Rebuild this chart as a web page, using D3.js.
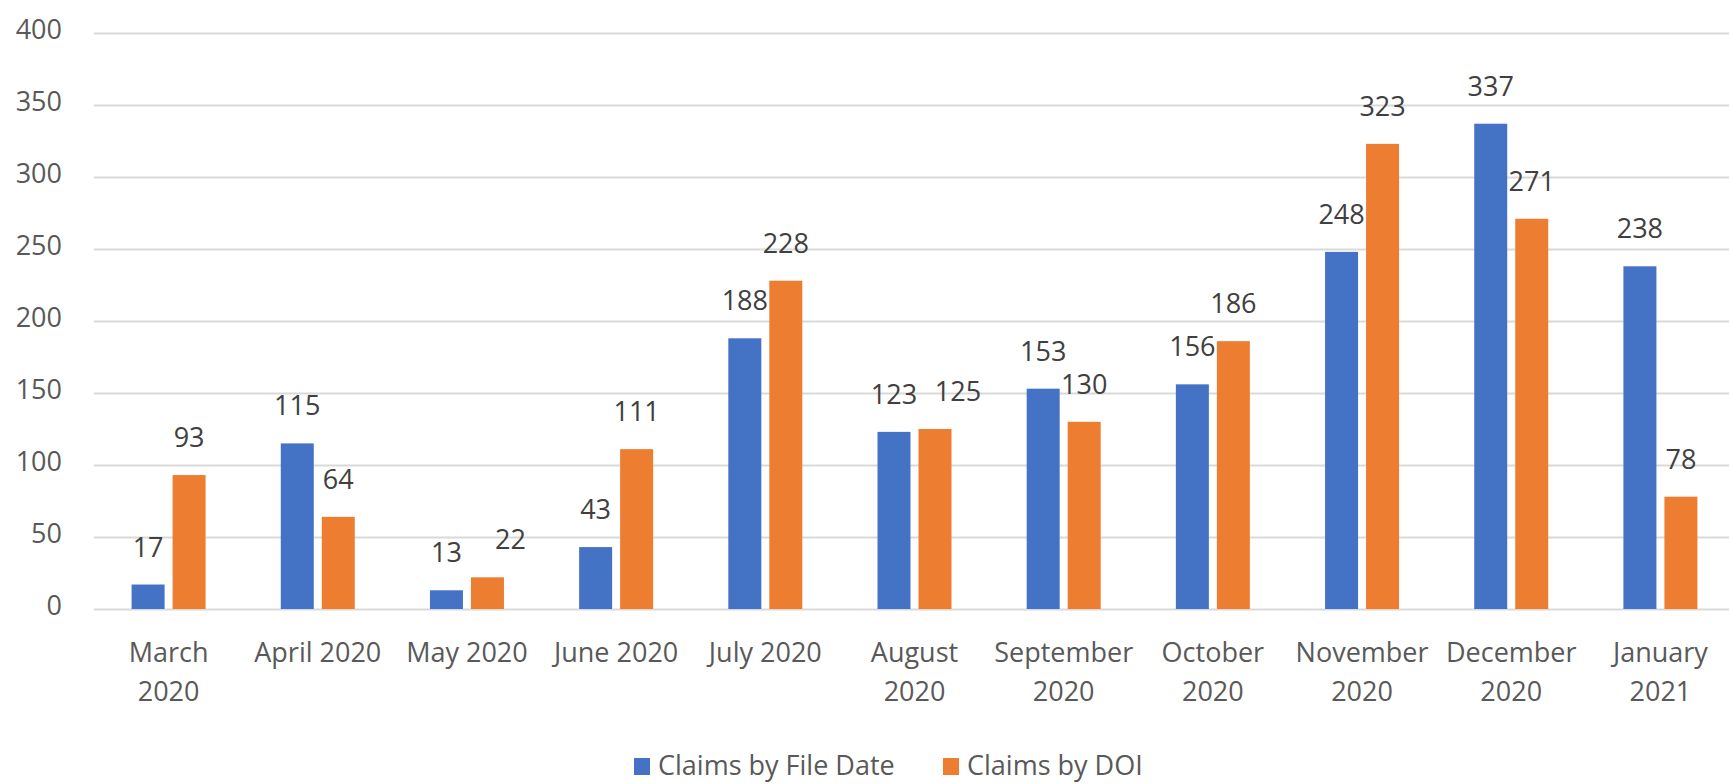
<!DOCTYPE html>
<html>
<head>
<meta charset="utf-8">
<script src="https://cdn.jsdelivr.net/npm/d3@7"></script>
<style>
  html, body { margin: 0; padding: 0; background: #fff; }
  svg { display: block; font-family: "Open Sans", sans-serif; }
</style>
</head>
<body>
<svg id="chart" width="1729" height="784"></svg>
<script>
// chart data
var months = ['March 2020', 'April 2020', 'May 2020', 'June 2020', 'July 2020', 'August 2020',
  'September 2020', 'October 2020', 'November 2020', 'December 2020', 'January 2021'];
var monthLines = [['March', '2020'], ['April 2020'], ['May 2020'], ['June 2020'], ['July 2020'],
  ['August', '2020'], ['September', '2020'], ['October', '2020'], ['November', '2020'],
  ['December', '2020'], ['January', '2021']];
var seriesNames = ['Claims by File Date', 'Claims by DOI'];
var fileDate = [17, 115, 13, 43, 188, 123, 153, 156, 248, 337, 238];
var doi = [93, 64, 22, 111, 228, 125, 130, 186, 323, 271, 78];
var yTicks = [0, 50, 100, 150, 200, 250, 300, 350, 400];

var colors = { 'Claims by File Date': '#4472c4', 'Claims by DOI': '#ed7d31' };

var svg = d3.select('#chart');
// note: "top" is taken by window.top, so use plot* names
var plotLeft = 94, plotRight = 1735, plotTop = 33, plotBottom = 609;

var x0 = d3.scaleBand().domain(months).range([plotLeft, plotRight]).paddingInner(0).paddingOuter(0);
var step = x0.bandwidth();
var groupW = 74;
var x1 = d3.scaleBand().domain(seriesNames)
  .range([(step - groupW) / 2, (step + groupW) / 2])
  .paddingInner(8 / 41);
var y = d3.scaleLinear().domain([0, 400]).range([plotBottom, plotTop]);

// y axis with gridlines
var yAxis = svg.append('g')
  .attr('transform', 'translate(' + plotLeft + ',0)')
  .call(d3.axisLeft(y).tickValues(yTicks).tickSize(-(plotRight - plotLeft)).tickPadding(32));
yAxis.select('.domain').remove();
yAxis.selectAll('.tick line').attr('stroke', '#d9d9d9').attr('stroke-width', 2);
yAxis.selectAll('.tick text')
  .attr('fill', '#595959')
  .attr('font-size', 27)
  .attr('font-family', '"Open Sans", sans-serif')
  .attr('dy', '0.2em');

// x axis labels
var xAxis = svg.append('g')
  .attr('transform', 'translate(0,' + plotBottom + ')')
  .call(d3.axisBottom(x0).tickSize(0).tickFormat(''));
xAxis.select('.domain').remove();
xAxis.selectAll('.tick').each(function (d, i) {
  var t = d3.select(this).append('text')
    .attr('fill', '#595959')
    .attr('font-size', 27)
    .attr('font-family', '"Open Sans", sans-serif')
    .attr('text-anchor', 'middle');
  monthLines[i].forEach(function (line, j) {
    t.append('tspan').attr('x', 0).attr('y', 53 + j * 39).text(line);
  });
});

// bars
var rows = months.map(function (m, i) {
  return { month: m, values: [
    { key: seriesNames[0], value: fileDate[i] },
    { key: seriesNames[1], value: doi[i] }
  ] };
});

var groups = svg.append('g').selectAll('g')
  .data(rows)
  .join('g')
  .attr('transform', function (d) { return 'translate(' + x0(d.month) + ',0)'; });

groups.selectAll('rect')
  .data(function (d) { return d.values; })
  .join('rect')
  .attr('x', function (d) { return x1(d.key); })
  .attr('y', function (d) { return y(d.value); })
  .attr('width', x1.bandwidth())
  .attr('height', function (d) { return y(0) - y(d.value); })
  .attr('fill', function (d) { return colors[d.key]; });

// value labels; push the second one aside when both sit at nearly the same height
groups.selectAll('text')
  .data(function (d) {
    var clash = Math.abs(y(d.values[0].value) - y(d.values[1].value)) < 26;
    return d.values.map(function (v, i) {
      return { key: v.key, value: v.value, shift: (clash && i === 1) ? 23 : 0 };
    });
  })
  .join('text')
  .attr('x', function (d) { return x1(d.key) + x1.bandwidth() / 2 + d.shift; })
  .attr('y', function (d) { return y(d.value) - 28; })
  .attr('text-anchor', 'middle')
  .attr('font-size', 27)
  .attr('fill', '#404040')
  .text(function (d) { return d.value; });

// legend
var legendX = [634, 943];
var legend = svg.append('g').selectAll('g')
  .data(seriesNames)
  .join('g')
  .attr('transform', function (d, i) { return 'translate(' + legendX[i] + ',0)'; });
legend.append('rect')
  .attr('x', 0).attr('y', 758)
  .attr('width', 16).attr('height', 17)
  .attr('fill', function (d) { return colors[d]; });
legend.append('text')
  .attr('x', 24).attr('y', 775)
  .attr('font-size', 27)
  .attr('fill', '#595959')
  .text(function (d) { return d; });
</script>
</body>
</html>
